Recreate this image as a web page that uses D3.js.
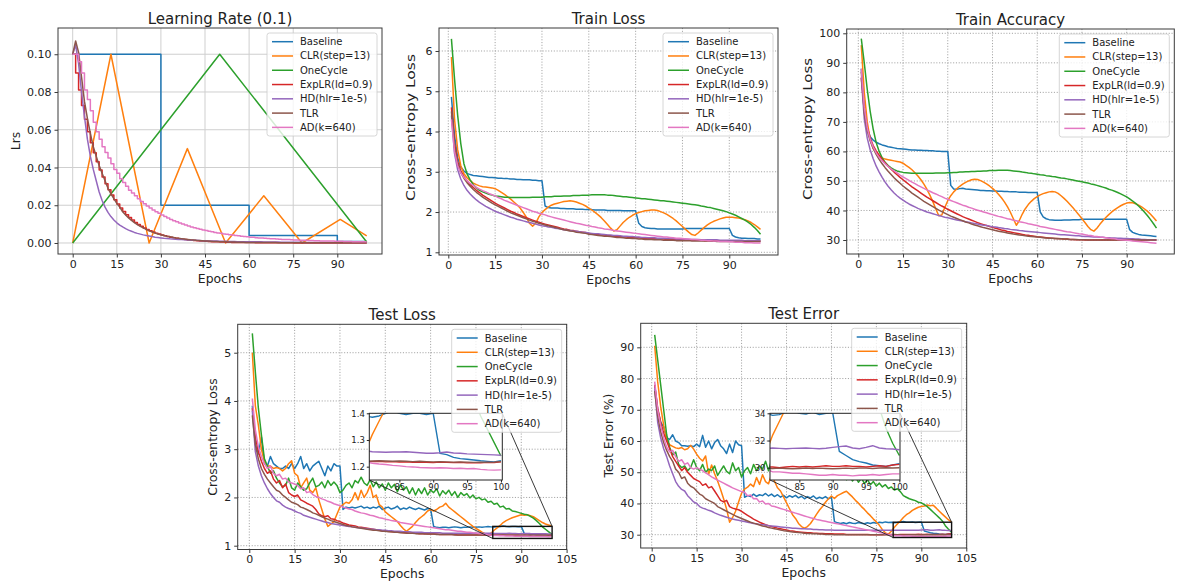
<!DOCTYPE html>
<html>
<head>
<meta charset="utf-8">
<script src="https://cdn.jsdelivr.net/npm/d3@7"></script>
<style>
  body { margin: 0; background: #fff; }
  svg text { font-family: "DejaVu Sans", sans-serif; fill: #222; }
</style>
</head>
<body>
<svg id="chart" width="1177" height="582"></svg>
<script>
// ---- schedules / series ----
const seriesNames = ["Baseline", "CLR(step=13)", "OneCycle", "ExpLR(ld=0.9)", "HD(hlr=1e-5)", "TLR", "AD(k=640)"];
const seriesColors = ["#1f77b4", "#ff7f0e", "#2ca02c", "#d62728", "#9467bd", "#8c564b", "#e377c2"];

const epochs = d3.range(1, 101);    // 1..100
const lrEpochs = d3.range(0, 101);  // 0..100

// ---- learning rate ----
const lrBaselineX = [0, 30, 60, 90, 100];
const lrBaseline = [0.1, 0.02, 0.004, 0.0008, 0.0008];
const lrClrX = [0, 13, 26, 39, 52, 65, 78, 91, 100];
const lrClr = [0, 0.1, 0, 0.05, 0, 0.025, 0, 0.0125, 0.0038];
const lrOneCycleX = [0, 50, 100];
const lrOneCycle = [0, 0.1, 0.0005];
const lrExp = [0.1,0.09,0.081,0.0729,0.0656,0.059,0.0531,0.0478,0.043,0.0387,
0.0349,0.0314,0.0282,0.0254,0.0229,0.0206,0.0185,0.0167,0.015,0.0135,
0.0122,0.0109,0.0098,0.0089,0.008,0.0072,0.0065,0.0058,0.0052,0.0047,
0.0042,0.0038,0.0034,0.0031,0.0028,0.0025,0.0023,0.002,0.0018,0.0016,
0.0015,0.0013,0.0012,0.0011,0.001,0.0009,0.0008,0.0007,0.0006,0.0006,
0.0005,0.0005,0.0004,0.0004,0.0003,0.0003,0.0003,0.0002,0.0002,0.0002,
0.0002,0.0002,0.0001,0.0001,0.0001,0.0001,0.0001,0.0001,0.0001,0.0001,
0.0001,0.0001,0.0001,0.0001,0.0001,0,0,0,0,0,
0,0,0,0,0,0,0,0,0,0,
0,0,0,0,0,0,0,0,0,0,
0];
const lrHd = [0.1,0.105,0.095,0.08,0.067,0.055,0.046,0.039,0.033,0.027,
0.0225,0.019,0.0162,0.014,0.0122,0.0107,0.0095,0.0085,0.0076,0.0068,
0.0062,0.0056,0.0051,0.0047,0.0043,0.004,0.0037,0.0034,0.0031,0.0029,
0.0027,0.0025,0.0024,0.0022,0.0021,0.002,0.0019,0.0018,0.0017,0.0016,
0.0015,0.0014,0.0014,0.0013,0.0012,0.0012,0.0011,0.0011,0.001,0.001,
0.0009,0.0009,0.0009,0.0008,0.0008,0.0008,0.0007,0.0007,0.0007,0.0007,
0.0006,0.0006,0.0006,0.0006,0.0006,0.0005,0.0005,0.0005,0.0005,0.0005,
0.0005,0.0004,0.0004,0.0004,0.0004,0.0004,0.0004,0.0004,0.0004,0.0003,
0.0003,0.0003,0.0003,0.0003,0.0003,0.0003,0.0003,0.0003,0.0003,0.0003,
0.0003,0.0003,0.0002,0.0002,0.0002,0.0002,0.0002,0.0002,0.0002,0.0002,
0.0002];
const lrTlr = [0.1,0.107,0.101,0.088,0.075,0.066,0.058,0.051,0.046,0.041,
0.037,0.033,0.029,0.026,0.0235,0.021,0.019,0.0165,0.0148,0.0133,
0.012,0.0108,0.0097,0.0088,0.008,0.0072,0.0065,0.0059,0.0053,0.0048,
0.0044,0.004,0.0036,0.0033,0.003,0.0027,0.0025,0.0023,0.0021,0.0019,
0.0017,0.0016,0.0014,0.0013,0.0012,0.0011,0.001,0.0009,0.0008,0.0008,
0.0007,0.0006,0.0006,0.0005,0.0005,0.0005,0.0004,0.0004,0.0004,0.0003,
0.0003,0.0003,0.0003,0.0002,0.0002,0.0002,0.0002,0.0002,0.0002,0.0002,
0.0001,0.0001,0.0001,0.0001,0.0001,0.0001,0.0001,0.0001,0.0001,0.0001,
0.0001,0.0001,0.0001,0.0001,0.0001,0.0001,0.0001,0.0001,0.0001,0.0001,
0.0001,0.0001,0.0001,0.0001,0.0001,0.0001,0.0001,0.0001,0.0001,0.0001,
0.0001];
const lrAd = [0.1,0.1,0.096,0.09,0.081,0.076,0.07,0.064,0.059,0.055,
0.051,0.048,0.045,0.042,0.039,0.037,0.034,0.032,0.03,0.028,
0.0265,0.025,0.0235,0.022,0.0208,0.0196,0.0185,0.0175,0.0165,0.0157,
0.0148,0.014,0.0132,0.0125,0.0118,0.0112,0.0106,0.01,0.0095,0.009,
0.0085,0.0081,0.0077,0.0073,0.0069,0.0066,0.0062,0.0059,0.0056,0.0053,
0.0051,0.0048,0.0046,0.0044,0.0042,0.004,0.0038,0.0036,0.0034,0.0033,
0.0031,0.003,0.0028,0.0027,0.0026,0.0025,0.0024,0.0023,0.0022,0.0021,
0.002,0.0019,0.0018,0.0018,0.0017,0.0016,0.0016,0.0015,0.0014,0.0014,
0.0013,0.0013,0.0012,0.0012,0.0011,0.0011,0.001,0.001,0.001,0.0009,
0.0009,0.0009,0.0008,0.0008,0.0008,0.0007,0.0007,0.0007,0.0007,0.0006,
0.0006];

// ---- train loss ----
const trainLossBaseline = [4.86,3.9,3.35,3.12,3.02,2.96,2.93,2.91,2.9,2.89,
2.88,2.87,2.86,2.86,2.85,2.84,2.84,2.83,2.83,2.82,
2.82,2.81,2.81,2.8,2.8,2.8,2.79,2.79,2.78,2.78,
2.15,2.11,2.1,2.1,2.1,2.09,2.09,2.08,2.08,2.08,
2.07,2.07,2.07,2.06,2.06,2.06,2.05,2.05,2.05,2.05,
2.04,2.04,2.04,2.04,2.04,2.03,2.03,2.03,2.03,2.03,
1.72,1.64,1.61,1.6,1.59,1.59,1.58,1.58,1.58,1.58,
1.58,1.58,1.58,1.58,1.58,1.59,1.59,1.59,1.59,1.59,
1.59,1.59,1.59,1.59,1.59,1.59,1.59,1.59,1.59,1.59,
1.42,1.38,1.36,1.35,1.35,1.34,1.34,1.34,1.33,1.33];
const trainLossClr = [5.85,4.3,3.55,3.15,2.95,2.85,2.78,2.72,2.68,2.65,
2.63,2.62,2.61,2.6,2.58,2.54,2.49,2.44,2.38,2.32,
2.25,2.18,2.1,1.99,1.87,1.72,1.65,1.72,1.88,1.99,
2.06,2.12,2.17,2.2,2.22,2.24,2.26,2.27,2.28,2.27,
2.25,2.22,2.19,2.15,2.1,2.05,1.99,1.93,1.86,1.78,
1.69,1.6,1.53,1.56,1.65,1.74,1.81,1.87,1.92,1.96,
1.99,2.01,2.03,2.04,2.05,2.05,2.04,2.01,1.98,1.94,
1.89,1.84,1.78,1.71,1.64,1.57,1.5,1.44,1.42,1.48,
1.55,1.62,1.68,1.73,1.77,1.8,1.83,1.85,1.87,1.87,
1.87,1.86,1.85,1.83,1.81,1.78,1.74,1.69,1.63,1.57];
const trainLossOneCycle = [6.3,5.3,4.4,3.7,3.2,2.95,2.8,2.68,2.6,2.54,
2.5,2.47,2.44,2.42,2.4,2.39,2.38,2.37,2.37,2.36,
2.36,2.36,2.36,2.36,2.36,2.36,2.37,2.37,2.37,2.37,
2.38,2.38,2.38,2.39,2.39,2.39,2.4,2.4,2.4,2.41,
2.41,2.41,2.42,2.42,2.42,2.43,2.43,2.43,2.43,2.43,
2.42,2.42,2.41,2.4,2.39,2.38,2.38,2.37,2.36,2.35,
2.34,2.33,2.33,2.32,2.31,2.3,2.29,2.28,2.28,2.27,
2.26,2.25,2.24,2.23,2.22,2.21,2.2,2.19,2.18,2.17,
2.15,2.14,2.12,2.11,2.09,2.07,2.05,2.03,2.01,1.98,
1.95,1.92,1.88,1.84,1.8,1.75,1.69,1.62,1.54,1.45];
const trainLossExp = [4.6,3.7,3.25,3.02,2.88,2.77,2.68,2.61,2.54,2.48,
2.42,2.37,2.32,2.27,2.22,2.18,2.14,2.1,2.06,2.02,
1.99,1.95,1.92,1.89,1.86,1.83,1.8,1.77,1.75,1.72,
1.7,1.68,1.66,1.64,1.62,1.6,1.58,1.57,1.55,1.54,
1.52,1.51,1.5,1.49,1.47,1.46,1.45,1.44,1.43,1.43,
1.42,1.41,1.4,1.4,1.39,1.38,1.38,1.37,1.37,1.36,
1.36,1.35,1.35,1.34,1.34,1.34,1.33,1.33,1.33,1.32,
1.32,1.32,1.31,1.31,1.31,1.31,1.3,1.3,1.3,1.3,
1.3,1.29,1.29,1.29,1.29,1.29,1.29,1.29,1.29,1.28,
1.28,1.28,1.28,1.28,1.28,1.28,1.28,1.28,1.28,1.28];
const trainLossHd = [4.4,3.45,3.05,2.82,2.66,2.54,2.45,2.37,2.3,2.24,
2.19,2.14,2.1,2.06,2.02,1.99,1.96,1.93,1.9,1.87,
1.85,1.82,1.8,1.78,1.76,1.74,1.72,1.7,1.68,1.66,
1.65,1.63,1.62,1.6,1.59,1.58,1.56,1.55,1.54,1.53,
1.52,1.51,1.5,1.49,1.48,1.47,1.46,1.46,1.45,1.44,
1.43,1.43,1.42,1.42,1.41,1.4,1.4,1.39,1.39,1.38,
1.38,1.37,1.37,1.36,1.36,1.36,1.35,1.35,1.35,1.34,
1.34,1.34,1.33,1.33,1.33,1.33,1.32,1.32,1.32,1.32,
1.31,1.31,1.31,1.31,1.31,1.31,1.3,1.3,1.3,1.3,
1.3,1.3,1.3,1.3,1.29,1.29,1.29,1.29,1.29,1.29];
const trainLossTlr = [4.5,3.6,3.2,2.98,2.84,2.73,2.64,2.56,2.49,2.43,
2.37,2.32,2.27,2.22,2.18,2.14,2.1,2.06,2.02,1.98,
1.95,1.92,1.89,1.86,1.83,1.8,1.77,1.75,1.72,1.7,
1.68,1.66,1.64,1.62,1.6,1.58,1.56,1.55,1.53,1.52,
1.5,1.49,1.48,1.47,1.45,1.44,1.43,1.42,1.41,1.4,
1.4,1.39,1.38,1.37,1.37,1.36,1.35,1.35,1.34,1.34,
1.33,1.33,1.32,1.32,1.32,1.31,1.31,1.31,1.3,1.3,
1.3,1.3,1.29,1.29,1.29,1.29,1.29,1.28,1.28,1.28,
1.28,1.28,1.28,1.28,1.28,1.27,1.27,1.27,1.27,1.27,
1.27,1.27,1.27,1.27,1.27,1.27,1.27,1.27,1.27,1.27];
const trainLossAd = [4.3,3.5,3.15,2.97,2.86,2.78,2.71,2.66,2.61,2.57,
2.53,2.5,2.46,2.43,2.4,2.36,2.33,2.29,2.26,2.23,
2.2,2.17,2.14,2.11,2.08,2.05,2.02,2.0,1.97,1.95,
1.93,1.9,1.88,1.86,1.84,1.82,1.8,1.78,1.76,1.74,
1.72,1.71,1.69,1.67,1.66,1.64,1.63,1.61,1.6,1.58,
1.57,1.56,1.54,1.53,1.52,1.51,1.5,1.49,1.48,1.47,
1.46,1.45,1.44,1.43,1.42,1.41,1.4,1.39,1.38,1.38,
1.37,1.36,1.35,1.35,1.34,1.33,1.33,1.32,1.32,1.31,
1.3,1.3,1.29,1.29,1.28,1.28,1.27,1.27,1.27,1.26,
1.26,1.25,1.25,1.25,1.24,1.24,1.24,1.23,1.23,1.23];

// ---- train accuracy ----
const trainAccBaseline = [88,75,68,65,63.8,63.1,62.6,62.2,61.9,61.6,
61.4,61.2,61,60.9,60.8,60.7,60.6,60.5,60.5,60.4,
60.4,60.3,60.3,60.2,60.2,60.1,60.1,60,60,60,
48.5,47.3,47.2,47.4,47.5,47.3,47.2,47.1,47,46.9,
46.8,46.8,46.7,46.7,46.6,46.6,46.5,46.5,46.4,46.4,
46.3,46.3,46.3,46.2,46.2,46.2,46.1,46.1,46.1,46.1,
39.5,37.8,37.2,36.9,36.8,36.7,36.7,36.7,36.8,36.8,
36.8,36.9,36.9,36.9,37,37,37,37,37,37,
37,37,37,37,37,37,37,37,37,37,
33.5,32.6,32.2,31.9,31.7,31.6,31.5,31.4,31.3,31.2];
const trainAccClr = [96,80,70,64,61,59.5,58.5,57.8,57.4,57.2,
57,56.8,56.6,56.4,56,55.3,54.6,53.8,52.8,51.7,
50.4,48.9,47.2,45.2,43,40.5,38.2,38.5,41,43.3,
45,46.3,47.3,48.2,48.9,49.5,50,50.4,50.6,50.5,
50.1,49.6,49,48.3,47.5,46.6,45.5,44.3,42.9,41.3,
39.4,37.2,35,36.6,38.8,40.6,42,43.1,44,44.7,
45.3,45.7,46,46.3,46.4,46.3,45.8,45,44.1,43.1,
42,40.9,39.7,38.5,37.2,35.9,34.6,33.5,33,34,
35.3,36.5,37.6,38.6,39.5,40.3,41,41.6,42.1,42.5,
42.7,42.6,42.3,41.8,41.2,40.5,39.7,38.7,37.6,36.4];
const trainAccOneCycle = [98.2,90,81,73.5,67.5,63,60,57.8,56.3,55.2,
54.4,53.8,53.4,53.1,52.9,52.8,52.7,52.6,52.6,52.6,
52.6,52.6,52.6,52.6,52.6,52.7,52.7,52.7,52.7,52.8,
52.8,52.9,52.9,53,53,53.1,53.1,53.2,53.2,53.3,
53.3,53.4,53.4,53.5,53.5,53.5,53.6,53.6,53.6,53.6,
53.5,53.4,53.3,53.2,53,52.9,52.7,52.6,52.4,52.3,
52.1,52,51.8,51.7,51.5,51.4,51.2,51,50.9,50.7,
50.5,50.3,50.1,49.9,49.7,49.5,49.3,49,48.8,48.5,
48.2,47.9,47.6,47.2,46.9,46.5,46.1,45.6,45.1,44.6,
43.9,43.2,42.4,41.5,40.5,39.4,38.2,36.9,35.5,34];
const trainAccExp = [85,74,68,64.5,62,60.2,58.7,57.3,56.1,55,
54,53,52.1,51.2,50.4,49.6,48.8,48,47.3,46.6,
45.9,45.2,44.5,43.9,43.3,42.7,42.1,41.5,41,40.4,
39.9,39.4,38.9,38.4,37.9,37.5,37.1,36.7,36.3,35.9,
35.5,35.2,34.9,34.6,34.3,34,33.7,33.4,33.2,32.9,
32.7,32.5,32.3,32.1,31.9,31.7,31.6,31.4,31.3,31.1,
31,30.9,30.8,30.7,30.6,30.5,30.5,30.4,30.3,30.3,
30.2,30.2,30.1,30.1,30.1,30,30,30,30,30,
30,30,30,30,30,30,30,30,30,30,
30,30,30,30,30,30,30,30,30,30];
const trainAccHd = [85,71,64.5,60.5,57.5,55,53,51.2,49.6,48.2,
47,45.9,45,44.2,43.5,42.8,42.2,41.7,41.2,40.7,
40.3,39.9,39.5,39.2,38.9,38.6,38.3,38,37.7,37.5,
37.3,37,36.8,36.6,36.4,36.2,36,35.8,35.6,35.4,
35.2,35,34.9,34.7,34.5,34.4,34.2,34.1,33.9,33.8,
33.6,33.5,33.4,33.2,33.1,33,32.9,32.8,32.7,32.6,
32.5,32.4,32.3,32.2,32.1,32,31.9,31.8,31.8,31.7,
31.6,31.5,31.4,31.4,31.3,31.2,31.2,31.1,31,31,
30.9,30.9,30.8,30.8,30.7,30.7,30.6,30.6,30.5,30.5,
30.4,30.4,30.3,30.3,30.2,30.2,30.1,30.1,30,30];
const trainAccTlr = [87,73,67,63.5,61,59,57.3,55.8,54.5,53.3,
52.2,51.1,50.1,49.2,48.3,47.5,46.7,45.9,45.2,44.5,
43.8,43.1,42.5,41.9,41.3,40.7,40.1,39.6,39.1,38.6,
38.1,37.7,37.3,36.9,36.5,36.1,35.8,35.4,35.1,34.8,
34.5,34.2,34,33.7,33.5,33.2,33,32.8,32.6,32.4,
32.2,32,31.9,31.7,31.6,31.4,31.3,31.2,31.1,31,
30.9,30.8,30.7,30.6,30.6,30.5,30.4,30.4,30.3,30.3,
30.2,30.2,30.2,30.1,30.1,30.1,30,30,30,30,
30,30,30,30,30,30,30,30,30,30,
30,30,30,30,30,30,30,30,30,30];
const trainAccAd = [88,75,68,64,61.5,59.5,58,56.8,55.8,54.9,
54.1,53.4,52.7,52,51.4,50.8,50.2,49.6,49.1,48.5,
48,47.5,47,46.5,46,45.6,45.1,44.7,44.2,43.8,
43.4,43,42.6,42.2,41.8,41.5,41.1,40.8,40.4,40.1,
39.8,39.5,39.2,38.9,38.6,38.3,38,37.8,37.5,37.2,
37,36.7,36.5,36.2,36,35.8,35.5,35.3,35.1,34.9,
34.6,34.4,34.2,34,33.8,33.6,33.4,33.2,33,32.8,
32.7,32.5,32.3,32.1,32,31.8,31.6,31.5,31.3,31.2,
31,30.9,30.8,30.6,30.5,30.4,30.2,30.1,30,29.9,
29.8,29.7,29.6,29.5,29.4,29.3,29.2,29.1,29,28.9];

// ---- test loss ----
const testLossBaseline = [3.9,3.1,2.9,3.25,2.7,2.65,2.85,2.7,2.65,2.6,
2.6,2.65,2.6,2.7,2.6,2.7,2.85,2.6,2.7,2.55,
2.65,2.7,2.75,2.6,2.45,2.65,2.55,2.7,2.65,2.65,
1.75,1.8,1.78,1.8,1.78,1.8,1.82,1.78,1.8,1.77,
1.8,1.78,1.82,1.75,1.78,1.8,1.76,1.78,1.82,1.75,
1.78,1.76,1.8,1.77,1.75,1.78,1.76,1.74,1.77,1.76,
1.4,1.38,1.37,1.38,1.38,1.37,1.38,1.39,1.38,1.37,
1.38,1.38,1.39,1.38,1.38,1.39,1.38,1.39,1.4,1.39,
1.385,1.39,1.4,1.41,1.4,1.395,1.4,1.4,1.395,1.4,
1.25,1.245,1.235,1.23,1.228,1.225,1.222,1.22,1.218,1.222];
const testLossClr = [5.0,3.9,3.5,3.0,2.75,2.65,2.65,2.6,2.62,2.6,
2.55,2.6,2.7,2.76,2.5,2.45,2.2,2.3,2.4,2.15,
2.1,2.2,1.95,1.75,1.55,1.4,1.45,1.5,1.65,1.8,
1.85,1.9,1.88,1.95,2.1,1.95,2.15,2.0,2.1,2.25,
2.0,2.05,1.85,1.8,1.7,1.65,1.6,1.55,1.5,1.42,
1.35,1.3,1.35,1.4,1.48,1.55,1.6,1.65,1.72,1.75,
1.72,1.75,1.8,1.82,1.88,1.8,1.75,1.7,1.65,1.6,
1.55,1.5,1.45,1.4,1.36,1.32,1.28,1.25,1.23,1.26,
1.32,1.37,1.42,1.48,1.52,1.55,1.58,1.6,1.62,1.64,
1.63,1.64,1.62,1.6,1.56,1.52,1.48,1.45,1.43,1.41];
const testLossOneCycle = [5.4,4.6,3.85,3.3,2.8,2.65,2.5,2.55,2.4,2.3,
2.22,2.25,2.4,2.2,2.15,2.3,2.22,2.15,2.18,2.3,
2.4,2.22,2.25,2.32,2.2,2.35,2.25,2.32,2.25,2.1,
2.15,2.25,2.3,2.2,2.35,2.3,2.42,2.3,2.25,2.37,
2.22,2.32,2.2,2.28,2.15,2.3,2.2,2.27,2.12,2.26,
2.15,2.22,2.08,2.2,2.05,2.18,2.08,2.2,2.05,2.15,
2.1,2.18,2.03,2.14,2.07,2.15,2.04,2.12,2.0,2.1,
2.04,2.08,1.99,2.05,1.97,2.0,1.95,1.97,1.9,1.92,
1.86,1.88,1.8,1.82,1.76,1.77,1.72,1.71,1.69,1.67,
1.65,1.64,1.61,1.57,1.52,1.46,1.39,1.34,1.29,1.24];
const testLossExp = [3.85,3.25,2.95,2.75,2.6,2.5,2.55,2.38,2.3,2.35,
2.2,2.28,2.1,2.05,2.02,2.05,1.95,1.92,1.88,1.85,
1.82,1.75,1.66,1.62,1.6,1.62,1.56,1.55,1.52,1.5,
1.47,1.45,1.43,1.42,1.41,1.39,1.38,1.37,1.36,1.35,
1.34,1.33,1.32,1.31,1.31,1.3,1.29,1.29,1.28,1.28,
1.27,1.27,1.26,1.26,1.26,1.25,1.25,1.25,1.24,1.24,
1.24,1.24,1.23,1.23,1.23,1.23,1.23,1.23,1.22,1.22,
1.22,1.22,1.22,1.22,1.22,1.22,1.22,1.22,1.22,1.22,
1.219,1.22,1.218,1.219,1.217,1.218,1.216,1.217,1.216,1.215,
1.217,1.216,1.215,1.216,1.214,1.215,1.214,1.216,1.215,1.218];
const testLossHd = [3.8,2.95,2.65,2.45,2.3,2.18,2.08,2.0,1.93,1.9,
1.84,1.8,1.77,1.75,1.72,1.69,1.67,1.63,1.61,1.59,
1.57,1.55,1.53,1.51,1.49,1.48,1.46,1.45,1.44,1.43,
1.42,1.41,1.4,1.39,1.38,1.37,1.36,1.36,1.35,1.34,
1.34,1.33,1.33,1.32,1.32,1.31,1.31,1.3,1.3,1.3,
1.29,1.29,1.29,1.28,1.28,1.28,1.28,1.27,1.27,1.27,
1.27,1.27,1.27,1.26,1.26,1.26,1.26,1.26,1.26,1.26,
1.26,1.26,1.26,1.26,1.26,1.26,1.26,1.26,1.26,1.26,
1.256,1.255,1.254,1.255,1.255,1.256,1.254,1.252,1.25,1.25,
1.252,1.255,1.251,1.25,1.248,1.247,1.246,1.245,1.244,1.243];
const testLossTlr = [3.7,3.1,2.8,2.6,2.48,2.38,2.3,2.22,2.15,2.12,
2.05,2.0,1.95,1.9,1.88,1.85,1.8,1.78,1.75,1.72,
1.68,1.66,1.63,1.6,1.57,1.55,1.52,1.5,1.48,1.46,
1.44,1.42,1.41,1.39,1.38,1.37,1.36,1.35,1.34,1.33,
1.32,1.32,1.31,1.3,1.3,1.29,1.29,1.28,1.28,1.27,
1.27,1.26,1.26,1.26,1.25,1.25,1.25,1.24,1.24,1.24,
1.24,1.23,1.23,1.23,1.23,1.23,1.23,1.22,1.22,1.22,
1.22,1.22,1.22,1.22,1.22,1.22,1.22,1.22,1.22,1.22,
1.221,1.222,1.221,1.22,1.221,1.22,1.219,1.22,1.219,1.218,
1.219,1.218,1.217,1.218,1.217,1.216,1.217,1.216,1.217,1.219];
const testLossAd = [4.05,3.4,3.05,2.85,2.7,2.6,2.65,2.5,2.45,2.48,
2.38,2.4,2.32,2.3,2.28,2.25,2.18,2.2,2.1,2.12,
2.06,2.02,2.0,1.97,1.95,1.92,1.9,1.87,1.85,1.83,
1.8,1.78,1.76,1.75,1.72,1.7,1.68,1.67,1.65,1.63,
1.62,1.6,1.58,1.57,1.55,1.54,1.52,1.51,1.5,1.48,
1.47,1.46,1.45,1.44,1.43,1.42,1.41,1.4,1.39,1.38,
1.37,1.36,1.35,1.34,1.33,1.33,1.32,1.31,1.3,1.3,
1.29,1.28,1.28,1.27,1.265,1.255,1.245,1.235,1.225,1.218,
1.213,1.21,1.208,1.205,1.203,1.2,1.199,1.197,1.196,1.195,
1.196,1.195,1.193,1.194,1.192,1.193,1.19,1.188,1.187,1.188];

// ---- test error ----
const testErrBaseline = [78,70,66,64.5,61,60.5,62,60,59.5,58.5,
58.5,58.3,58.5,58.2,59,58.2,61.8,58,60,57.5,
59.5,60.5,58.5,57.5,56,59,56.3,60,58.8,58.5,
42,42.5,42.2,43,42.3,42.8,42.5,43.2,42.4,43,
42.2,42.8,42,42.6,41.8,42.5,42,42.6,41.8,42.3,
41.5,42.2,41.8,42.4,41.5,42,41.6,42.2,41.5,42,
34.2,33.8,33.6,33.8,33.5,33.9,33.7,33.6,33.9,33.7,
33.5,33.8,33.6,33.9,33.7,34,33.8,34.1,33.9,34,
33.85,33.9,34.1,34.2,34,33.95,34.1,33.9,34,34.05,
31.2,30.9,30.6,30.45,30.35,30.2,30.15,30.1,30.2,30.3];
const testErrClr = [90.5,79,71,65,60.5,58.8,58.3,57.8,57.6,57.9,
57.2,57.5,58.6,57.4,55.8,54.5,53.6,55.2,49.3,52.3,
49.5,47.2,44.5,41.5,38.2,34,35.5,37.5,40.5,43.3,
44.6,45.2,46.2,45.4,48.3,46.1,49.2,47,46.3,49.3,
47.1,45,44,42.1,40.2,38.3,36.4,35.2,33.6,32.6,
32.1,32.6,33.6,35,36.5,37.9,39,40.4,41.5,42.4,
41.6,42.5,43,43.5,43.9,43,42.1,41,40.1,39,
38.1,37,36.1,35,34.1,33,31.6,30.6,30.2,31.1,
32.4,33.4,34.4,35.5,36.4,37,37.8,38.3,38.8,39,
39.2,39.5,39.3,39.4,38.5,37.5,36.6,35.7,34.8,34.1];
const testErrOneCycle = [94,86,78,70,62,58,55.5,56.5,52.5,51.5,
52,50.5,51.5,54,51.5,50.5,52.5,50,51,50.5,
52,49,50.5,52,50.3,49.5,53,50.5,51.5,48.5,
50.5,51.5,49.5,52.5,50.5,52,51,53.5,50.5,54,
51,52.5,50.3,53,50.8,52.3,50,52.8,49.8,52,
50.5,52.2,49.5,51.8,49.2,51.3,48.8,50.6,48.5,50.2,
48.2,49.8,47.9,49.4,47.6,49,47.2,48.5,46.8,48.1,
46.4,47.6,46,47,45.6,46.5,45.3,46,44.8,45.3,
44.3,44.7,43.8,42.5,42,41.5,41.2,40.9,40.4,40.2,
39.6,39,38.1,37.2,36.3,35.4,34.4,32.9,31.8,30.9];
const testErrExp = [78,70.5,66,62.5,60,57.5,55,53.5,52,50.5,
51.5,50,49,48,47.5,47,45.8,46.3,45,45.4,
44,42.5,41,40.5,41,39,38.5,38.2,38,37.5,
36.8,36.2,35.6,35,34.5,34,33.6,33.2,32.9,32.6,
32.4,32.1,31.9,31.7,31.5,31.3,31.2,31,30.9,30.8,
30.7,30.6,30.6,30.5,30.5,30.4,30.4,30.3,30.3,30.3,
30.2,30.2,30.2,30.2,30.1,30.1,30.1,30.1,30.1,30.1,
30.1,30.1,30,30,30,30,30,30.05,30.05,30.05,
30.05,30,30.05,30.1,30.05,30.1,30.05,30.1,30.15,30.1,
30.1,30.15,30.1,30.1,30.05,30.1,30.15,30.1,30.2,30.25];
const testErrHd = [77,66,61,57.5,55,52,49.5,47,45.5,44.5,
44,42.5,41.5,40.5,40,39,38.5,38.2,37.8,37.5,
37,36.6,36.2,35.9,35.6,35.3,35,34.8,34.6,34.4,
34.2,34,33.8,33.6,33.5,33.3,33.2,33.1,32.9,32.8,
32.7,32.6,32.5,32.4,32.3,32.2,32.1,32.1,32,31.9,
31.9,31.8,31.8,31.7,31.7,31.6,31.6,31.5,31.5,31.5,
31.4,31.4,31.4,31.4,31.4,31.4,31.4,31.4,31.4,31.4,
31.4,31.4,31.4,31.4,31.4,31.4,31.4,31.4,31.4,31.4,
31.45,31.42,31.4,31.42,31.43,31.45,31.42,31.4,31.43,31.5,
31.55,31.6,31.45,31.4,31.5,31.62,31.45,31.4,31.38,31.32];
const testErrTlr = [76,68,63,59.5,57,55,53.5,51,50,48,
48.5,46.5,45.5,45,44,43,42.5,41.5,41,40.5,
40,39,38.5,38,37.5,37,36.5,36,35.6,35.2,
34.8,34.4,34,33.7,33.4,33.1,32.8,32.6,32.3,32.1,
31.9,31.7,31.5,31.3,31.2,31,30.9,30.8,30.7,30.6,
30.5,30.4,30.4,30.3,30.3,30.2,30.2,30.1,30.1,30.1,
30,30,30,30,29.95,29.95,29.95,29.95,29.95,29.95,
29.95,29.95,29.95,29.95,29.95,29.95,29.95,29.95,29.95,29.95,
29.95,29.97,29.95,29.93,29.95,29.98,29.95,29.97,29.95,29.93,
29.95,29.97,29.95,29.98,29.97,29.95,29.98,30,29.98,30];
const testErrAd = [79,70,65,61,58,56.5,57,55,53.5,54,
52.5,53,51.5,51,51.5,51,50.5,49.8,49.2,48.5,
48,47.5,47,46.5,46,45.5,45,44.6,44.2,43.8,
43.6,42.5,42.7,41.5,41.6,40.5,40.8,39.8,40,39.2,
39,38.7,38.4,38.1,37.8,37.5,37.2,36.9,36.6,36.3,
36,35.7,35.4,35.2,34.9,34.7,34.5,34.3,34.1,33.9,
33.7,33.5,33.3,33.1,32.9,32.7,32.5,32.3,32.1,31.9,
31.7,31.5,31.3,31.1,30.9,30.7,30.5,30.3,30.1,29.9,
29.7,29.7,29.65,29.6,29.6,29.55,29.5,29.45,29.45,29.5,
29.45,29.45,29.4,29.45,29.45,29.5,29.45,29.5,29.55,29.55];

// ---- tick values ----
const topEpochTicks = [0, 15, 30, 45, 60, 75, 90];
const bottomEpochTicks = [0, 15, 30, 45, 60, 75, 90, 105];
const lrTicks = [0, 0.02, 0.04, 0.06, 0.08, 0.10];
const trainLossTicks = [1, 2, 3, 4, 5, 6];
const trainAccTicks = [30, 40, 50, 60, 70, 80, 90, 100];
const testLossTicks = [1, 2, 3, 4, 5];
const testErrTicks = [30, 40, 50, 60, 70, 80, 90];
const insetEpochTicks = [85, 90, 95, 100];
const testLossInsetTicks = [1.2, 1.3, 1.4];
const testErrInsetTicks = [30, 32, 34];

// ---- build series lists ----
const zipXY = (xs, ys) => xs.map((x, i) => [x, ys[i]]);
const perEpoch = ys => zipXY(epochs, ys);

const lrSeries = [
  { pts: zipXY(lrBaselineX, lrBaseline), curve: d3.curveStepAfter },
  { pts: zipXY(lrClrX, lrClr), curve: d3.curveLinear },
  { pts: zipXY(lrOneCycleX, lrOneCycle), curve: d3.curveLinear },
  { pts: zipXY(lrEpochs, lrExp), curve: d3.curveStepAfter },
  { pts: zipXY(lrEpochs, lrHd), curve: d3.curveLinear },
  { pts: zipXY(lrEpochs, lrTlr), curve: d3.curveLinear },
  { pts: zipXY(lrEpochs, lrAd), curve: d3.curveStepAfter }
];
const lin = ys => ({ pts: perEpoch(ys), curve: d3.curveLinear });
const trainLossSeries = [trainLossBaseline, trainLossClr, trainLossOneCycle, trainLossExp, trainLossHd, trainLossTlr, trainLossAd].map(lin);
const trainAccSeries = [trainAccBaseline, trainAccClr, trainAccOneCycle, trainAccExp, trainAccHd, trainAccTlr, trainAccAd].map(lin);
const testLossSeries = [testLossBaseline, testLossClr, testLossOneCycle, testLossExp, testLossHd, testLossTlr, testLossAd].map(lin);
const testErrSeries = [testErrBaseline, testErrClr, testErrOneCycle, testErrExp, testErrHd, testErrTlr, testErrAd].map(lin);

// ---- panel layout ----
const panels = [
  { title: "Learning Rate (0.1)", ylabel: "Lrs", box: [58, 382, 28, 254],
    xd: [-5, 105.2], yd: [-0.00583, 0.1139], xt: topEpochTicks, yt: lrTicks, yfmt: d3.format(".2f"),
    grid: "solid", series: lrSeries, ylab: { x: 15.5, y: 141 } },
  { title: "Train Loss", ylabel: "Cross-entropy Loss", box: [439, 778, 28, 255],
    xd: [-2.98, 105.6], yd: [0.933, 6.571], xt: topEpochTicks, yt: trainLossTicks, yfmt: d3.format("d"),
    grid: "dotted", series: trainLossSeries, ylab: { x: 410.8, y: 127.5, len: 147 } },
  { title: "Train Accuracy", ylabel: "Cross-entropy Loss", box: [846.7, 1174.3, 29, 254],
    xd: [-3.89, 105.97], yd: [25.26, 101.46], xt: topEpochTicks, yt: trainAccTicks, yfmt: d3.format("d"),
    grid: "dotted", series: trainAccSeries, ylab: { x: 807.5, y: 129, len: 142 } },
  { title: "Test Loss", ylabel: "Cross-entropy Loss", box: [237.7, 566.7, 324.3, 549.5],
    xd: [-3.84, 105.03], yd: [0.921, 5.589], xt: bottomEpochTicks, yt: testLossTicks, yfmt: d3.format("d"),
    grid: "dotted", series: testLossSeries, ylab: { x: 213, y: 437 },
    inset: { box: [369.3, 502.3, 413.3, 480], xd: [80.56, 100.2], yd: [1.15, 1.4],
             xt: insetEpochTicks, yt: testLossInsetTicks, yfmt: d3.format(".1f") } },
  { title: "Test Error", ylabel: "Test Error (%)", box: [640.7, 966.7, 323.3, 548],
    xd: [-3.67, 105.14], yd: [25.74, 97.69], xt: bottomEpochTicks, yt: testErrTicks, yfmt: d3.format("d"),
    grid: "dotted", series: testErrSeries, ylab: { x: 609, y: 435.6 },
    inset: { box: [770, 900, 413.3, 480], xd: [80.6, 100.1], yd: [29.1, 34],
             xt: insetEpochTicks, yt: testErrInsetTicks, yfmt: d3.format("d") } }
];

const svg = d3.select("#chart");
const spineColor = "#3a3a3a";

function drawLines(g, series, x, y, clipId, width) {
  const holder = g.append("g").attr("clip-path", `url(#${clipId})`);
  series.forEach((s, i) => {
    const line = d3.line().x(d => x(d[0])).y(d => y(d[1])).curve(s.curve);
    holder.append("path")
      .attr("d", line(s.pts))
      .attr("fill", "none")
      .attr("stroke", seriesColors[i])
      .attr("stroke-width", width)
      .attr("stroke-linejoin", "round")
      .attr("stroke-linecap", "butt");
  });
}

panels.forEach((p, pi) => {
  const [x0, x1, y0, y1] = p.box;
  const x = d3.scaleLinear().domain(p.xd).range([x0, x1]);
  const y = d3.scaleLinear().domain(p.yd).range([y1, y0]);
  const g = svg.append("g");

  // clip
  const clipId = "clip" + pi;
  svg.append("clipPath").attr("id", clipId)
    .append("rect").attr("x", x0).attr("y", y0).attr("width", x1 - x0).attr("height", y1 - y0);

  // grid
  const gridG = g.append("g");
  const gridStyle = sel => {
    if (p.grid === "solid") sel.attr("stroke", "#cfcfcf").attr("stroke-width", 1);
    else sel.attr("stroke", "#9a9a9a").attr("stroke-width", 0.9).attr("stroke-dasharray", "1.1,1.7");
  };
  p.xt.forEach(t => {
    const xx = x(t);
    if (xx < x0 - 0.5 || xx > x1 + 0.5) return;
    gridG.append("line").attr("x1", xx).attr("x2", xx).attr("y1", y0).attr("y2", y1).call(gridStyle);
  });
  p.yt.forEach(t => {
    const yy = y(t);
    gridG.append("line").attr("x1", x0).attr("x2", x1).attr("y1", yy).attr("y2", yy).call(gridStyle);
  });

  // data
  drawLines(g, p.series, x, y, clipId, 1.5);

  // spines
  g.append("rect").attr("x", x0).attr("y", y0).attr("width", x1 - x0).attr("height", y1 - y0)
    .attr("fill", "none").attr("stroke", spineColor).attr("stroke-width", 1);

  // x axis ticks + labels
  const xAxis = d3.axisBottom(x).tickValues(p.xt).tickSize(3.5).tickPadding(2.5).tickFormat(d3.format("d"));
  const xa = g.append("g").attr("transform", `translate(0,${y1})`).call(xAxis);
  xa.select(".domain").remove();
  xa.selectAll("line").attr("stroke", spineColor);
  xa.selectAll("text").attr("font-size", 11).attr("font-family", "DejaVu Sans").attr("fill", "#222");

  const yAxis = d3.axisLeft(y).tickValues(p.yt).tickSize(3.5).tickPadding(3).tickFormat(p.yfmt);
  const ya = g.append("g").attr("transform", `translate(${x0},0)`).call(yAxis);
  ya.select(".domain").remove();
  ya.selectAll("line").attr("stroke", spineColor);
  ya.selectAll("text").attr("font-size", 11).attr("font-family", "DejaVu Sans").attr("fill", "#222");

  // title and labels
  g.append("text").attr("x", (x0 + x1) / 2).attr("y", y0 - 4.5)
    .attr("text-anchor", "middle").attr("font-size", 15).text(p.title);
  g.append("text").attr("x", (x0 + x1) / 2).attr("y", y1 + 28.5)
    .attr("text-anchor", "middle").attr("font-size", 12.4).text("Epochs");
  const yl = g.append("text")
    .attr("transform", `translate(${p.ylab.x},${p.ylab.y}) rotate(-90)`)
    .attr("text-anchor", "middle").attr("dy", "0.35em").attr("font-size", 12.4).text(p.ylabel);
  if (p.ylab.len) yl.attr("textLength", p.ylab.len).attr("lengthAdjust", "spacingAndGlyphs");

  // zoomed inset
  if (p.inset) {
    const ins = p.inset;
    const [ix0, ix1, iy0, iy1] = ins.box;
    // region marker in the main axes
    const rx0 = x(ins.xd[0]), rx1 = x(ins.xd[1]);
    const ry0 = y(ins.yd[1]), ry1 = y(ins.yd[0]);
    g.append("rect").attr("x", rx0).attr("y", ry0).attr("width", rx1 - rx0).attr("height", ry1 - ry0)
      .attr("fill", "none").attr("stroke", "#111").attr("stroke-width", 1.4);
    g.append("line").attr("x1", ix1).attr("y1", iy0).attr("x2", rx1).attr("y2", ry0)
      .attr("stroke", "#222").attr("stroke-width", 0.9);
    g.append("line").attr("x1", ix0).attr("y1", iy1).attr("x2", rx0).attr("y2", ry1)
      .attr("stroke", "#222").attr("stroke-width", 0.9);

    const ixs = d3.scaleLinear().domain(ins.xd).range([ix0, ix1]);
    const iys = d3.scaleLinear().domain(ins.yd).range([iy1, iy0]);
    const ig = g.append("g");
    ig.append("rect").attr("x", ix0).attr("y", iy0).attr("width", ix1 - ix0).attr("height", iy1 - iy0)
      .attr("fill", "#fff");
    const iclip = "iclip" + pi;
    svg.append("clipPath").attr("id", iclip)
      .append("rect").attr("x", ix0).attr("y", iy0).attr("width", ix1 - ix0).attr("height", iy1 - iy0);
    drawLines(ig, p.series, ixs, iys, iclip, 1.4);
    ig.append("rect").attr("x", ix0).attr("y", iy0).attr("width", ix1 - ix0).attr("height", iy1 - iy0)
      .attr("fill", "none").attr("stroke", "#222").attr("stroke-width", 1);

    const ixa = ig.append("g").attr("transform", `translate(0,${iy1})`)
      .call(d3.axisBottom(ixs).tickValues(ins.xt).tickSize(2.5).tickPadding(1.5).tickFormat(d3.format("d")));
    ixa.select(".domain").remove();
    ixa.selectAll("line").attr("stroke", "#222");
    ixa.selectAll("text").attr("font-size", 8.5).attr("font-family", "DejaVu Sans").attr("fill", "#222");
    const iya = ig.append("g").attr("transform", `translate(${ix0},0)`)
      .call(d3.axisLeft(iys).tickValues(ins.yt).tickSize(2.5).tickPadding(2).tickFormat(ins.yfmt));
    iya.select(".domain").remove();
    iya.selectAll("line").attr("stroke", "#222");
    iya.selectAll("text").attr("font-size", 8.5).attr("font-family", "DejaVu Sans").attr("fill", "#222");
  }

  // legend (upper right)
  const lw = 110, lh = 103;
  const lx = x1 - 5 - lw, ly = y0 + 5;
  const lg = g.append("g");
  lg.append("rect").attr("x", lx).attr("y", ly).attr("width", lw).attr("height", lh).attr("rx", 2.5)
    .attr("fill", "#fff").attr("fill-opacity", 0.8).attr("stroke", "#cccccc").attr("stroke-width", 0.8);
  seriesNames.forEach((name, i) => {
    const cy = ly + 8.7 + i * 14.28;
    lg.append("line").attr("x1", lx + 5).attr("x2", lx + 26).attr("y1", cy).attr("y2", cy)
      .attr("stroke", seriesColors[i]).attr("stroke-width", 1.5);
    lg.append("text").attr("x", lx + 33).attr("y", cy).attr("dy", "0.35em")
      .attr("font-size", 10).text(name);
  });
});
</script>
</body>
</html>
